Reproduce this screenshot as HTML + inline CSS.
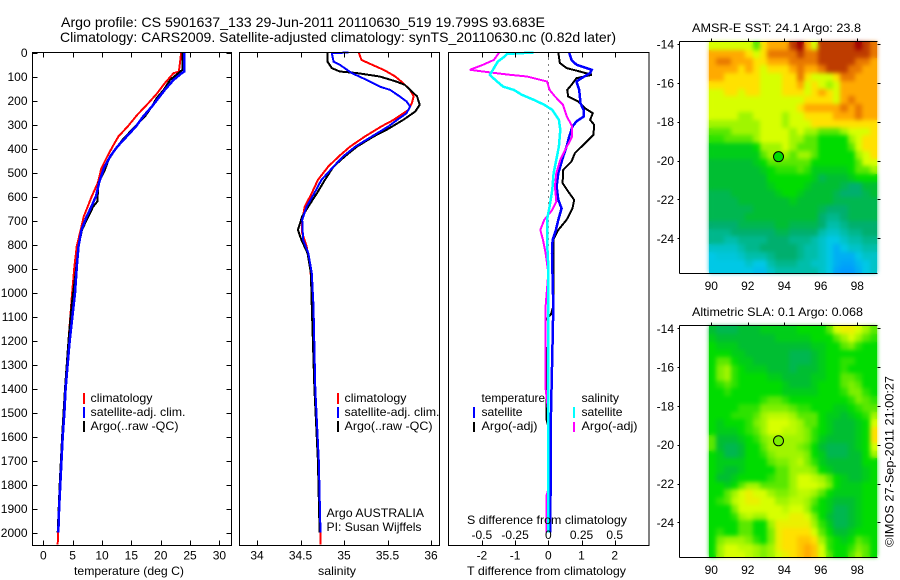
<!DOCTYPE html>
<html lang="en">
<head>
<meta charset="utf-8">
<title>Argo profile 5901637_133</title>
<style>
html,body{margin:0;padding:0;background:#fff;}
svg{display:block;font-family:"Liberation Sans",sans-serif;font-size:12px;fill:#000;}
.title{font-size:14px;}
.ln{fill:none;stroke-width:2;shape-rendering:crispEdges;stroke-linejoin:miter;}
.ax{fill:none;stroke:#000;stroke-width:1;shape-rendering:crispEdges;}
</style>
</head>
<body>
<svg id="chart" xmlns="http://www.w3.org/2000/svg" width="900" height="580" viewBox="0 0 900 580">
  <defs>
    <filter id="map-soften" x="-5%" y="-5%" width="110%" height="110%" color-interpolation-filters="sRGB">
      <feGaussianBlur in="SourceGraphic" stdDeviation="2" result="soft"/>
      <feMerge>
        <feMergeNode in="SourceGraphic"/>
        <feMergeNode in="soft"/>
      </feMerge>
    </filter>
  </defs>
  <text class="title" x="61" y="27" textLength="484" lengthAdjust="spacingAndGlyphs">Argo profile: CS 5901637_133 29-Jun-2011 20110630_519 19.799S 93.683E</text>
  <text class="title" x="60" y="42" textLength="556" lengthAdjust="spacingAndGlyphs">Climatology: CARS2009. Satellite-adjusted climatology: synTS_20110630.nc (0.82d later)</text>

  <g id="layer-maps"></g>
  <g id="layer-lines"></g>
  <g id="layer-axes"></g>

  <text x="74" y="575" textLength="110" lengthAdjust="spacingAndGlyphs">temperature (deg C)</text>
  <text x="318" y="575" textLength="38" lengthAdjust="spacingAndGlyphs">salinity</text>
  <text x="467" y="575" textLength="159" lengthAdjust="spacingAndGlyphs">T difference from climatology</text>
  <text x="467" y="524" textLength="160" lengthAdjust="spacingAndGlyphs">S difference from climatology</text>

  <g>
    <rect x="83" y="393" width="2" height="11" fill="#ff0000"/>
    <text x="90.5" y="402" textLength="62" lengthAdjust="spacingAndGlyphs">climatology</text>
    <rect x="83" y="407" width="2" height="11" fill="#0000ff"/>
    <text x="90.5" y="416" textLength="95" lengthAdjust="spacingAndGlyphs">satellite-adj. clim.</text>
    <rect x="83" y="421" width="2" height="11" fill="#000"/>
    <text x="90.5" y="430" textLength="88" lengthAdjust="spacingAndGlyphs">Argo(..raw -QC)</text>
  </g>
  <g>
    <rect x="337" y="393" width="2" height="11" fill="#ff0000"/>
    <text x="344.5" y="402" textLength="62" lengthAdjust="spacingAndGlyphs">climatology</text>
    <rect x="337" y="407" width="2" height="11" fill="#0000ff"/>
    <text x="344.5" y="416" textLength="95" lengthAdjust="spacingAndGlyphs">satellite-adj. clim.</text>
    <rect x="337" y="421" width="2" height="11" fill="#000"/>
    <text x="344.5" y="430" textLength="88" lengthAdjust="spacingAndGlyphs">Argo(..raw -QC)</text>
  </g>
  <text x="326.5" y="517" textLength="97.5" lengthAdjust="spacingAndGlyphs">Argo AUSTRALIA</text>
  <text x="326.5" y="531" textLength="95" lengthAdjust="spacingAndGlyphs">PI: Susan Wijffels</text>

  <g>
    <text x="481.5" y="402" textLength="63.5" lengthAdjust="spacingAndGlyphs">temperature</text>
    <rect x="473" y="407" width="2" height="11" fill="#0000ff"/>
    <text x="481.5" y="416" textLength="41" lengthAdjust="spacingAndGlyphs">satellite</text>
    <rect x="473" y="422" width="2" height="10" fill="#000"/>
    <text x="481.5" y="430" textLength="56" lengthAdjust="spacingAndGlyphs">Argo(-adj)</text>
    <text x="581.5" y="402" textLength="37.5" lengthAdjust="spacingAndGlyphs">salinity</text>
    <rect x="573" y="407" width="2" height="11" fill="#00ffff"/>
    <text x="581.5" y="416" textLength="41" lengthAdjust="spacingAndGlyphs">satellite</text>
    <rect x="573" y="422" width="2" height="10" fill="#ff00ff"/>
    <text x="581.5" y="430" textLength="56" lengthAdjust="spacingAndGlyphs">Argo(-adj)</text>
  </g>

  <text x="692" y="32" textLength="169" lengthAdjust="spacingAndGlyphs">AMSR-E SST: 24.1 Argo: 23.8</text>
  <text x="692" y="316" textLength="171" lengthAdjust="spacingAndGlyphs">Altimetric SLA: 0.1 Argo: 0.068</text>
  <text transform="translate(893.5 547) rotate(-90)" textLength="171" lengthAdjust="spacingAndGlyphs">©IMOS 27-Sep-2011 21:00:27</text>
</svg>

<script>
// ---- axis tick data ----
const depthTicks = [0,100,200,300,400,500,600,700,800,900,1000,1100,1200,1300,1400,1500,1600,1700,1800,1900,2000];
const tempTicks = [0,5,10,15,20,25,30];
const salTicks = [34,34.5,35,35.5,36];
const salTickLabels = ['34','34.5','35','35.5','36'];
const tDiffTicks = [-2,-1,0,1,2];
const sDiffTicks = [-0.5,-0.25,0,0.25,0.5];
const sDiffTickLabels = ['-0.5','-0.25','0','0.25','0.5'];
const lonTicks = [90,92,94,96,98];
const latTicks = [-14,-16,-18,-20,-22,-24];

// ---- temperature profiles ----
const tempClimDepth = [0,80,86,128,170,211,260,308,350,392,433,482,542,597,683,736,806,892,1003,1200,1400,1600,1800,2000,2050];
const tempClimValue = [23.5,23.1,22.2,20.7,19.4,17.9,16.0,14.4,12.8,11.8,10.9,9.9,9.3,8.3,6.9,6.4,5.7,5.3,4.9,4.3,3.8,3.2,2.8,2.5,2.45];
const tempSatDepth = [0,79,86,114,156,190,225,267,308,350,392,433,482,542,597,642,683,739,808,892,1003,1200,1400,1500,1600,1700,1800,1900,2000];
const tempSatValue = [24.0,24.0,23.6,22.2,20.7,19.6,18.5,17.0,15.8,14.2,12.6,11.4,10.3,9.5,9.0,8.2,7.4,6.5,6.0,5.7,5.4,4.5,3.8,3.6,3.3,3.1,2.9,2.7,2.55];
const tempArgoDepth = [0,72,86,114,156,190,225,267,322,364,406,447,489,542,621,642,697,739,808,919,1058,1200,1400,1600,1800,2000];
const tempArgoValue = [23.7,23.7,23.0,21.6,20.5,19.3,18.5,17.3,15.1,13.5,12.2,11.1,10.5,9.4,9.2,8.5,7.4,6.6,6.0,5.5,4.8,4.3,3.7,3.2,2.8,2.45];

// ---- salinity profiles ----
const salClimDepth = [0,31,44,65,79,100,128,156,183,211,239,281,308,350,392,433,475,531,586,642,697,753,808,892,975,1058,1400,1700,2000,2050];
const salClimValue = [35.17,35.20,35.28,35.41,35.49,35.59,35.68,35.76,35.80,35.78,35.74,35.57,35.43,35.24,35.07,34.94,34.82,34.70,34.63,34.55,34.52,34.52,34.57,34.61,34.63,34.64,34.67,34.71,34.73,34.73];
const salSatDepth = [0,3,38,51,86,114,142,156,183,204,225,253,281,308,350,392,433,475,531,586,642,697,781,836,919,1058,1400,1700,2000];
const salSatValue = [35.05,34.86,34.88,34.95,35.09,35.26,35.41,35.53,35.64,35.72,35.76,35.72,35.61,35.51,35.32,35.13,34.99,34.88,34.74,34.66,34.57,34.52,34.53,34.59,34.63,34.65,34.67,34.71,34.73];
const salArgoDepth = [0,38,65,79,86,100,121,135,156,183,218,246,281,322,350,392,433,475,531,586,642,683,739,781,836,919,1058,1400,1700,2000];
const salArgoValue = [34.81,34.81,34.86,34.95,35.15,35.41,35.6,35.70,35.76,35.84,35.87,35.82,35.68,35.49,35.34,35.15,35.01,34.88,34.78,34.69,34.59,34.52,34.47,34.51,34.58,34.62,34.63,34.66,34.70,34.72];

// ---- difference profiles ----
const dTSatDepth = [0,31,51,72,86,107,121,156,211,239,267,287,308,350,392,433,503,558,614,649,697,739,781,836,1058,1200,1500,2000];
const dTSatValue = [0.63,0.70,0.85,1.31,1.26,1.0,0.85,0.93,0.97,1.06,1.06,0.85,0.73,0.63,0.55,0.45,0.30,0.25,0.30,0.40,0.30,0.23,0.13,0.11,0.15,0.13,0.08,0.06];
const dTArgoDepth = [0,44,65,79,93,107,135,156,183,204,232,253,281,301,343,392,419,454,489,544,579,614,649,697,739,781,864,1058,1090,1115,1220,1260,1530,1560,2000];
const dTArgoValue = [0.30,0.35,0.55,0.95,1.31,0.85,0.70,0.57,0.60,0.90,1.10,1.34,1.26,1.38,1.36,1.0,0.80,0.70,0.45,0.43,0.60,0.78,0.73,0.55,0.30,0.15,0.15,0.15,0.08,-0.08,-0.08,-0.05,-0.05,0,0];
const dSSatDepth = [0,6,17,38,65,93,114,142,156,176,197,218,239,281,322,392,447,503,572,642,697,781,892,1058,2000];
const dSSatValue = [-0.11,-0.31,-0.33,-0.38,-0.41,-0.44,-0.40,-0.34,-0.26,-0.20,-0.11,-0.03,0.03,0.08,0.09,0.08,0.06,0.04,0.03,0.01,-0.01,-0.01,0,0,0];
const dSArgoDepth = [0,31,51,72,83,93,100,121,156,183,218,267,308,350,392,447,503,558,621,656,697,739,781,836,919,1058,1400,1500,1820,1850,2000];
const dSArgoValue = [-0.37,-0.41,-0.49,-0.59,-0.44,-0.29,-0.16,-0.01,0.01,0.05,0.11,0.14,0.18,0.18,0.14,0.09,0.06,0.05,0.06,0.03,-0.03,-0.06,-0.04,-0.02,0,-0.02,-0.02,0,0,-0.015,-0.015];

// ---- map data (colour-scale levels) ----
const sstRows = [
[8,8,8,8,8,8,6,9,10,10,10,12,13,10,8,12,12,12,12,12,13,12,11],
[10,10,10,10,10,9,8,9,11,11,11,11,12,11,11,12,12,12,12,12,12,12,11],
[10,11,11,10,10,10,9,9,10,10,10,11,11,11,11,12,12,12,12,12,11,11,10],
[10,10,10,10,9,10,9,8,9,9,9,10,11,10,10,11,12,12,12,11,11,10,10],
[10,10,9,9,9,9,9,8,8,8,9,9,11,9,8,8,8,9,11,11,10,10,10],
[9,9,9,9,9,9,9,8,8,8,9,9,10,8,9,8,7,8,10,10,10,10,10],
[8,8,9,9,8,9,9,8,8,8,9,9,9,8,9,10,9,8,10,10,10,10,10],
[8,8,8,8,8,8,8,8,8,8,8,8,8,9,9,9,9,8,10,11,10,10,10],
[8,8,8,8,8,8,8,8,8,8,8,8,9,10,10,10,10,10,11,10,11,10,10],
[8,8,8,8,7,7,8,8,8,8,7,8,8,9,9,9,9,10,10,10,11,10,10],
[7,7,7,7,7,7,7,8,8,8,7,8,8,8,9,9,9,9,9,9,9,9,9],
[6,6,6,7,7,7,7,8,8,8,8,7,8,7,7,6,6,6,7,8,8,8,9],
[5.5,5.5,6,6,6,6,7,8,8,8,8,7,7,6,6,5,5,5,5,7,8,9,9],
[4.5,4.5,4.5,4.5,4.5,4.5,5,7,7,7,8,7,6,6,6,5,5,5,5,6,8,9,9],
[4.5,4.5,4.5,4.5,4.5,4.5,4.5,6,7,7,7,6,7,7,6,5,5,5,5,5,7,8,9],
[4,4,4,4,4,4,4.5,5,6,6,6,6,6,6,5,5,5,5,5,5,6,8,8],
[4,4,4,4,4,4,4,4.5,5,5.5,5.5,5.5,6,5.5,4.5,4.5,4.5,4.5,4.5,5,6,6,7],
[4,4,4,4,4,4,4,4,5,5,5,5,5,5,4.5,3.5,4,4,4,4.5,5,5,5],
[4,4,4,4,4,4,4,4,4.5,5,5,5,5,4.5,4,4,4,4,3.5,3,3,4,4],
[3.5,3.5,3.5,4,4,4,4,4,4,4.5,5,5,4.5,4,4,4,4,3.5,3,3,3,3.5,4],
[3.5,3.5,3.5,3.5,4,4,4,4,4,4,4,4.5,4,4,4,4,4,3.5,3.5,3.5,3.5,3.5,3.5],
[3.5,3.5,3.5,3.5,3.5,3.5,4,4,4,4,4,4,4,4,4,3.5,3,3,3,3.5,3.5,3.5,3.5],
[3.5,3.5,3.5,3.5,3.5,4,4,4,4,4,4,4,4,4,4,3,2.5,2.5,3,3.5,3.5,3.5,3.5],
[3,3,3,3,3.5,3.5,3.5,3.5,3.5,4,4,3.5,3.5,3.5,3.5,3,2,2,2.5,3,3,3,3],
[2.5,2.5,2.5,3,3,3,3,3,3,3.5,3.5,3,3,3,3,2,1.5,1.5,2,2.5,2.5,3,3],
[2.5,2.5,2,2,2.5,2.5,2.5,2.5,3,3,3,2.5,2.5,2.5,2,1.5,1,1,1.5,2,2,2.5,2.5],
[1.5,1.5,1.5,1.5,2,2.5,2.5,3,3,3,3,3,2.5,2,2,1.5,1,0.5,1,1.5,1.5,2,2],
[1,1.2,1.2,1.2,1.5,2,2,2,2.5,3,3,3,2.5,2,2,1.5,1,0.5,0.5,0.5,1,1.5,1.5],
[1,1,1,1,1,1.5,1,1,2,2.5,2.5,2.5,2,2,1.5,1.5,1,0.5,0.3,0.3,0.7,1,1.5],
[1,1,1,1,1,1,0.8,0.8,1.5,2,2,2,2,2,2,1.5,1,0.3,0.1,0.1,0.5,1,1.5]
];
const slaRows = [
[4,3.5,3.5,3.5,4,4,4,4.5,4.5,4.5,4.5,4.5,5,5,5,5,6,8,8.5,8.5,8,7,6],
[4.5,4,4,4,4,4,4,4,4,4.5,4.5,4.5,4.5,4.5,5,5,5,6,7,8,7,6,5.5],
[5,4.5,4.5,4.5,4,4,4,4,4,4,4,4,4,4,4.5,4.5,5,5,6,6.5,5.5,5,5],
[5,5,5,4.5,4.5,4,4,4,4,4,4,3.5,3.5,3.5,4,4.5,5,5,5,5,5,5,5],
[5,6,6,5,4.5,4.5,4,4,4,4,4,3.5,3.5,3.5,4,4.5,5,5,5.5,5.5,5,5,5],
[5,6.5,7,5.5,5,4.5,4.5,4.5,4,4,4,3.5,4,4,4,4.5,5,5,5.5,5,5,5,5],
[5,6.5,7,5.5,5,5,5,5,4.5,4.5,4,4,4,4,4.5,4.5,5,5,6,6,5.5,5,5],
[5,5.5,6,5.5,5,5,5,5,5,5,4.5,4,4,4,4.5,5,5,5,6,6.5,6,5,5],
[5,5,5.5,5,5,5,5,5,5,5,4.5,4.5,4.5,4.5,4.5,5,5,5,5.5,6.5,6.5,5.5,5],
[5,5,5,5,5,5,5,5.5,6,6,5.5,5,5,5,5,5,5,5,5,5.5,6.5,6,5.5],
[5,5,5,5,5.5,5.5,5.5,6.5,6.5,6.5,6.5,6,5.5,5.5,5,5,5,4.5,4.5,5,5.5,6,6],
[5,5,5,5.5,5.5,5.5,6,7,7.5,7.5,7.5,7,6,6,6,5,4.5,4.5,4,4.5,5,5.5,7],
[5,4.5,5,5,5,5.5,6.5,7,8,8,8,7.5,7,6,6,5,4.5,4,4,4,4.5,5,8],
[5,4.5,4.5,4.5,5,5.5,6,7,8,8,7.5,7.5,7,6.5,5.5,5,4.5,4,4,4,4.5,5,9],
[6,4,4,4,4.5,5,5.5,6.5,7,7,7,7,7,6.5,5.5,4.5,4,4,4,4,4.5,5,9],
[6,4,3.5,3.5,4,5,5,6,7,7,7,7,6.5,6,5,4,3.5,3.5,3.5,4,4.5,5,8],
[5,4.5,3.5,3.5,4,5,5,5.5,6.5,7,7,7,7,6.5,5,4.5,3.5,3.5,3.5,4,4,5,7],
[5,4.5,4.5,4.5,4.5,5,5,5,6,6.5,6.5,7,7.5,6.5,5.5,4.5,4,4,4,4,4,5,5],
[5,4.5,4,4,4.5,5,5,5,5,6,6,7,7,7,6.5,5,4.5,4,4,4,4,4.5,5],
[5,4,4,4.5,5,5,5,5,5.5,6,6,7,8,8,7.5,7,6,5,4.5,4,4,4.5,5],
[5,5,4.5,5,6,7,7,6,6,6,6,7,8,8,8,7.5,6.5,5,4.5,4.5,4.5,5,5],
[5,5,6,7,8,8.5,8,8,7,6.5,6.5,7,7.5,7.5,7,6,5,4.5,4.5,4.5,4.5,5,5],
[5,5.5,6,7.5,8,8.5,8.5,8,8,7,7,7.5,7.5,7,6,5,4.5,4,4,4,4.5,5,5],
[5,5,5,6.5,8,8,8,8,8,8,7.5,8,8,7,5.5,5,4.5,3.5,3.5,4,4.5,5,5],
[5,5,5,5.5,7,7.5,7,7,8,8,8,8.5,8.5,8,6.5,5,4,3.5,3.5,4,4.5,5,5],
[5,5,5,5,6,6,5,5,7,8.5,8.5,8.5,8.5,8.5,7,5.5,4.5,3.5,3.5,4,4.5,5,5],
[5,5.5,5,5,6,6,5,5,6.5,8.5,9,9,9,9,8,6,5,4,4,4.5,5,5,5],
[5,6.5,7,7,7,6.5,5.5,5,6.5,8.5,9,9,9.5,9.5,9,7,5.5,5,4.5,5,6,5.5,5],
[5,7,8,8,7.5,7.5,7,6.5,7,8.5,9,9,9.5,10,9.5,8,5.5,5,5,5.5,6.5,6,5],
[5,7,8,8,8,7.5,7,6.5,7,8,8.5,9,9.5,10,9.5,8,6,5,5,6,7,6,5]
];
const argoLon = 93.683;
const argoLat = -19.799;
const sstArgoLevel = 5;
const slaArgoLevel = 6.5;

// ---- colour scale (not data) ----
const palette = [[0,150,255],[0,200,230],[0,190,170],[0,175,110],[0,190,50],[0,220,0],[90,232,0],[160,245,0],[215,255,0],[255,225,0],[255,170,0],[232,120,0],[190,60,0],[160,0,0]];
function levelColor(v){
  const i = Math.max(0, Math.min(palette.length-2, Math.floor(v)));
  const f = Math.max(0, Math.min(1, v-i));
  const c = palette[i].map((a,k)=>Math.round(a+(palette[i+1][k]-a)*f));
  return 'rgb('+c.join(',')+')';
}

// ---- axis functions ----
const yDepth = d => 52.5 + d*0.24;
const xTemp = t => 43.3 + t*5.87;
const xSal = s => 257 + (s-34)*87;
const xDT = t => 548.3 + t*33.2;
const xDS = s => 548.3 + s*132.8;
const xLon = lon => 711.3 + (lon-90)*18.25;
const yLat1 = lat => 44 + (-14-lat)*19.43;
const yLat2 = lat => 328.3 + (-14-lat)*19.4;

const NS = 'http://www.w3.org/2000/svg';
const lineLayer = document.getElementById('layer-lines');
const axisLayer = document.getElementById('layer-axes');
const mapLayer = document.getElementById('layer-maps');

function make(tag, parent, attrs){
  const el = document.createElementNS(NS, tag);
  for (const k in attrs) el.setAttribute(k, attrs[k]);
  parent.appendChild(el);
  return el;
}

function drawLine(name, depths, values, xFn, color, width){
  const pts = depths.map((d,i)=>xFn(values[i]).toFixed(1)+','+yDepth(d).toFixed(1)).join(' ');
  const el = make('polyline', lineLayer, {points:pts, class:'ln', stroke:color, style:'stroke-width:'+width});
  
  
}

function drawSeg(x1,y1,x2,y2){
  const el = make('line', axisLayer, {x1:x1,y1:y1,x2:x2,y2:y2,class:'ax'});
  
  
}

function drawLabel(x,y,anchor,str){
  const el = make('text', axisLayer, {x:x,y:y,'text-anchor':anchor});
  el.textContent = str;
  
  
}

function drawFrame(x,y,w,h){
  const el = make('rect', axisLayer, {x:x,y:y,width:w,height:h,class:'ax'});
  
  
}

// ---- profile panels ----
const zeroX = Math.round(xDT(0))+0.5;
const dotted = make('line', lineLayer, {x1:zeroX,y1:yDepth(0),x2:zeroX,y2:yDepth(2000),stroke:'#000','stroke-width':1,'stroke-dasharray':'1 5','shape-rendering':'crispEdges'});



drawLine('temperature-climatology', tempClimDepth, tempClimValue, xTemp, '#ff0000', 2);
drawLine('temperature-argo', tempArgoDepth, tempArgoValue, xTemp, '#000000', 2);
drawLine('temperature-satellite', tempSatDepth, tempSatValue, xTemp, '#0000ff', 2.5);
drawLine('salinity-climatology', salClimDepth, salClimValue, xSal, '#ff0000', 2);
drawLine('salinity-argo', salArgoDepth, salArgoValue, xSal, '#000000', 2);
drawLine('salinity-satellite', salSatDepth, salSatValue, xSal, '#0000ff', 2);
drawLine('t-difference-argo', dTArgoDepth, dTArgoValue, xDT, '#000000', 2);
drawLine('t-difference-satellite', dTSatDepth, dTSatValue, xDT, '#0000ff', 2.5);
drawLine('s-difference-argo', dSArgoDepth, dSArgoValue, xDS, '#ff00ff', 2);
drawLine('s-difference-satellite', dSSatDepth, dSSatValue, xDS, '#00ffff', 2.5);

drawFrame(32.5,52.5,199,493);
drawFrame(239.5,52.5,200,493);
drawFrame(448.5,52.5,200.5,493);

depthTicks.forEach(d=>{
  const y = Math.round(yDepth(d))+0.5;
  drawSeg(32.5,y,37.5,y);
  drawSeg(226.5,y,231.5,y);
  drawLabel(27.5, yDepth(d)+4.5, 'end', String(d));
});
tempTicks.forEach(t=>{
  const x = Math.round(xTemp(t))+0.5;
  drawSeg(x,52.5,x,57.5);
  drawSeg(x,540.5,x,545.5);
  drawLabel(xTemp(t), 559.5, 'middle', String(t));
});
salTicks.forEach((s,i)=>{
  const x = Math.round(xSal(s))+0.5;
  drawSeg(x,52.5,x,57.5);
  drawSeg(x,540.5,x,545.5);
  drawLabel(xSal(s), 559.5, 'middle', salTickLabels[i]);
});
tDiffTicks.forEach(t=>{
  const x = Math.round(xDT(t))+0.5;
  drawSeg(x,52.5,x,57.5);
  drawSeg(x,540.5,x,545.5);
  drawLabel(xDT(t), 559.5, 'middle', String(t));
});
sDiffTicks.forEach((s,i)=>{
  drawLabel(xDS(s), 539, 'middle', sDiffTickLabels[i]);
});

// ---- maps ----
function drawMap(name, rows, yLat, argoLevel, frameTop, frameBottom, labelBase){
  const g = make('g', mapLayer, {'shape-rendering':'crispEdges', filter:'url(#map-soften)'});
  
  
  const lon0 = 89.87, lat0 = -13.9, dLon = 0.4, dLat = 0.4;
  rows.forEach((row,r)=>{
    row.forEach((v,c)=>{
      const x0 = Math.round(xLon(lon0+c*dLon));
      const x1 = Math.round(xLon(lon0+(c+1)*dLon));
      const y0 = Math.round(yLat(lat0-r*dLat));
      const y1 = Math.min(frameBottom, Math.round(yLat(lat0-(r+1)*dLat)));
      const cell = make('rect', g, {x:x0,y:y0,width:x1-x0,height:Math.max(0,y1-y0),fill:levelColor(v)});
      
      
    });
  });
  const marker = make('circle', mapLayer, {cx:xLon(argoLon),cy:yLat(argoLat),r:5,fill:levelColor(argoLevel),stroke:'#000','stroke-width':1});
  
  
  drawSeg(679.5,frameTop,877.5,frameTop);
  drawSeg(679.5,frameBottom+0.5,877.5,frameBottom+0.5);
  drawSeg(679.5,frameTop,679.5,frameBottom+0.5);
  lonTicks.forEach(lon=>{
    const x = Math.round(xLon(lon))+0.5;
    drawSeg(x,frameTop-3,x,frameTop);
    drawLabel(xLon(lon), labelBase, 'middle', String(lon));
  });
  latTicks.forEach(lat=>{
    const y = Math.round(yLat(lat))+0.5;
    drawSeg(677.5,y,679.5,y);
    drawSeg(877.5,y,880.5,y);
    drawLabel(674, yLat(lat)+4.5, 'end', String(lat));
  });
}
drawMap('sst-map', sstRows, yLat1, sstArgoLevel, 41.5, 273, 290);
drawMap('sla-map', slaRows, yLat2, slaArgoLevel, 325.5, 557, 574);
</script>
</body>
</html>
